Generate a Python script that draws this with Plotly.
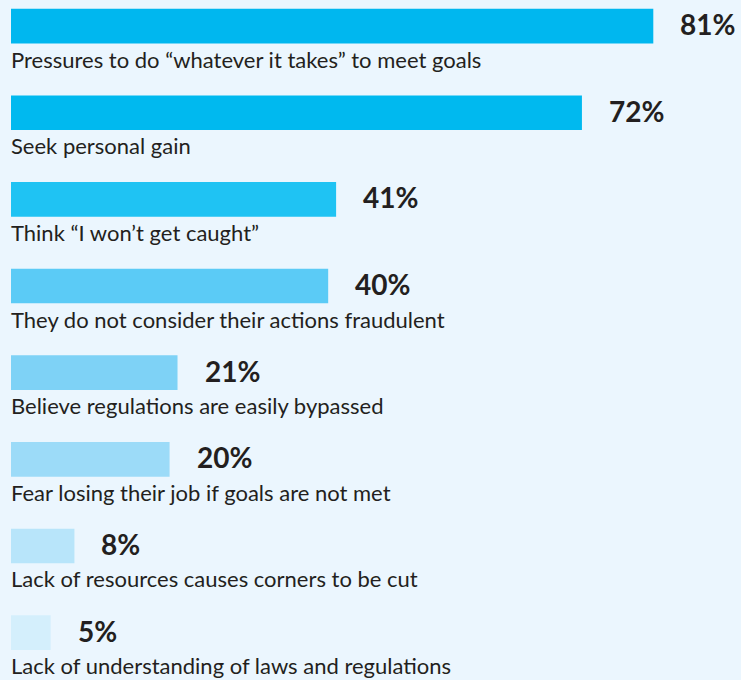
import plotly.graph_objects as go

reasons = [
    "Pressures to do “whatever it takes” to meet goals",
    "Seek personal gain",
    "Think “I won’t get caught”",
    "They do not consider their actions fraudulent",
    "Believe regulations are easily bypassed",
    "Fear losing their job if goals are not met",
    "Lack of resources causes corners to be cut",
    "Lack of understanding of laws and regulations",
]
shares = [81, 72, 41, 40, 21, 20, 8, 5]
bar_colors = ["#00b7ef", "#00b9ef", "#1fc3f3", "#5bcbf6", "#7ed2f6", "#9cdbf8", "#b8e5fa", "#d4effc"]

TEXT = "#231f20"

fig = go.Figure(
    go.Bar(
        x=shares,
        y=reasons,
        orientation="h",
        marker=dict(color=bar_colors, line=dict(width=0)),
        width=0.4,
        hoverinfo="skip",
    )
)

for reason, val in zip(reasons, shares):
    # value label to the right of the bar
    fig.add_annotation(
        x=val, y=reason, text=f"<b>{val}%</b>", showarrow=False,
        xanchor="left", yanchor="middle", xshift=25, yshift=2,
        font=dict(family="Lato", size=28, color=TEXT),
    )
    # category label under the bar
    fig.add_annotation(
        x=0, y=reason, text=reason, showarrow=False,
        xanchor="left", yanchor="middle", xshift=-2, yshift=-33,
        font=dict(family="Lato", size=22, color=TEXT),
    )

fig.update_layout(
    width=741,
    height=680,
    margin=dict(l=11, r=0, t=0, b=0),
    paper_bgcolor="#ebf6fe",
    plot_bgcolor="#ebf6fe",
    showlegend=False,
    xaxis=dict(range=[0, 92.06], visible=False, fixedrange=True),
    yaxis=dict(range=[7.547, -0.301], visible=False, fixedrange=True),
)

fig.write_html(
    "out.html",
    config={"displayModeBar": False},
    post_script="document.body.style.margin='0';",
)
